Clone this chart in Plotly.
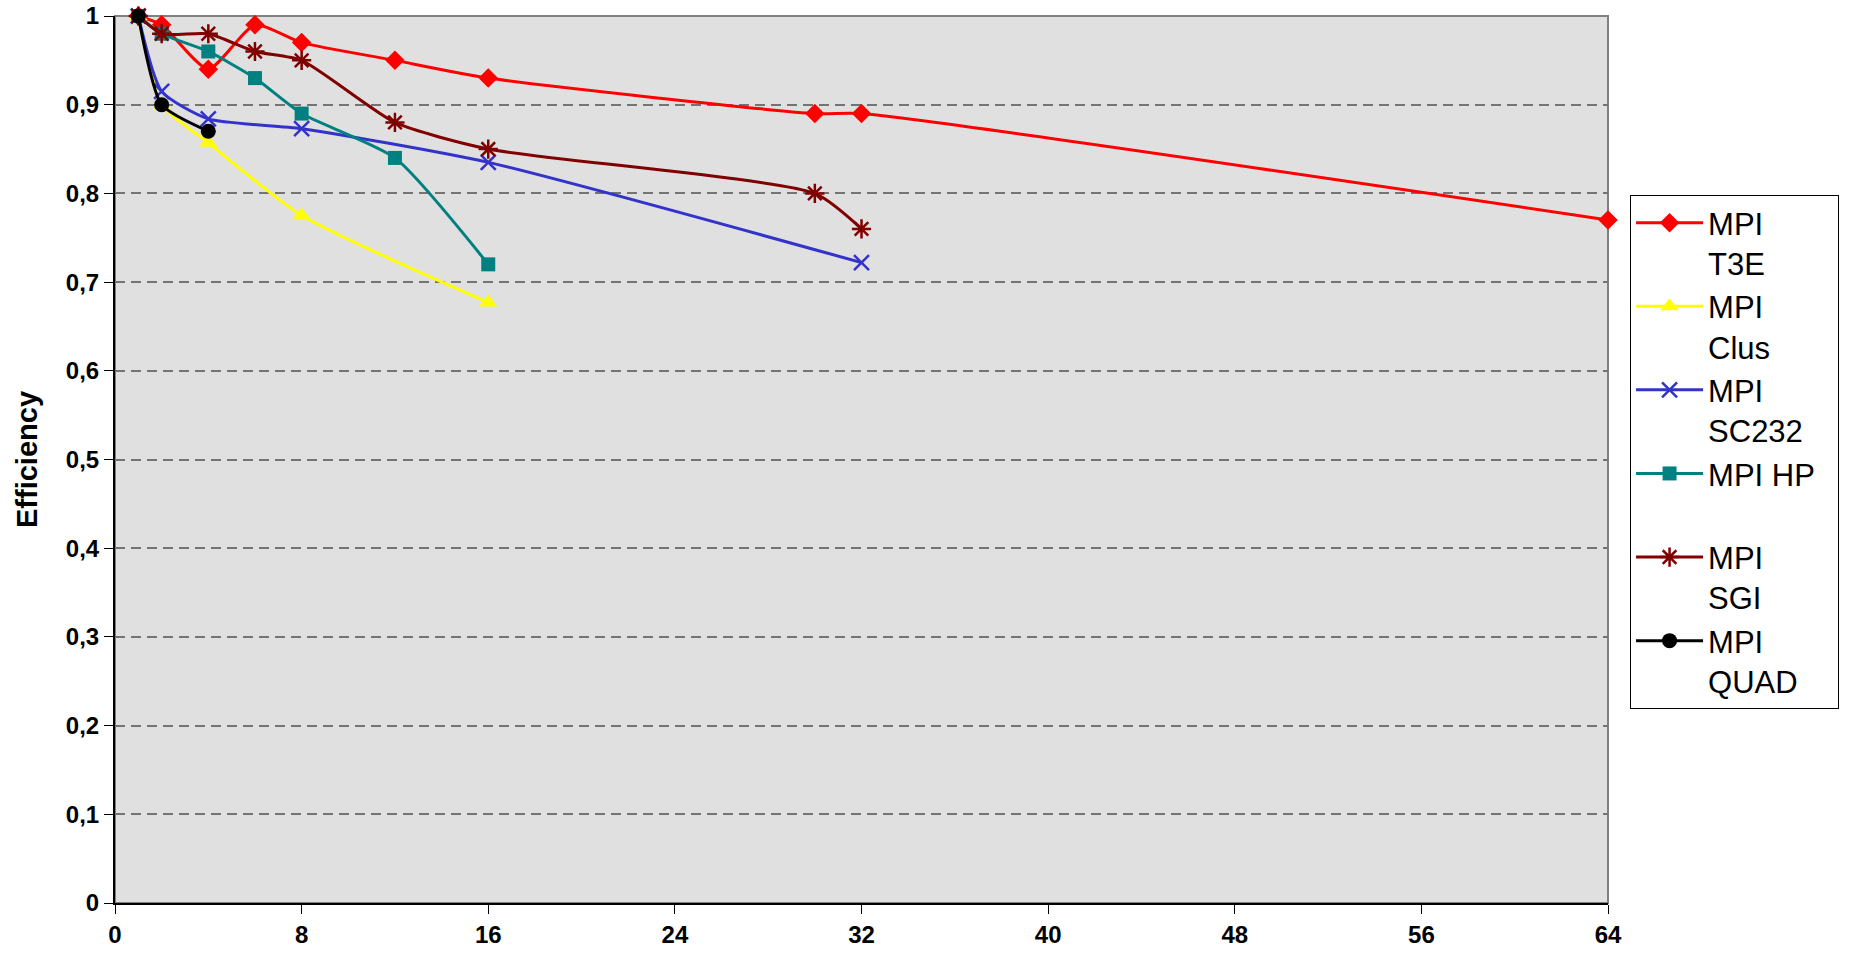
import plotly.graph_objects as go

# Processor counts and parallel efficiency per platform
x_t3e = [1, 2, 4, 6, 8, 12, 16, 30, 32, 64]
y_t3e = [1.0, 0.99, 0.94, 0.99, 0.97, 0.95, 0.93, 0.89, 0.89, 0.77]

x_clus = [1, 2, 4, 8, 16]
y_clus = [1.0, 0.90, 0.857, 0.775, 0.677]

x_sc232 = [1, 2, 4, 8, 16, 32]
y_sc232 = [1.0, 0.915, 0.884, 0.873, 0.835, 0.722]

x_hp = [1, 2, 4, 6, 8, 12, 16]
y_hp = [1.0, 0.98, 0.96, 0.93, 0.89, 0.84, 0.72]

x_sgi = [1, 2, 4, 6, 8, 12, 16, 30, 32]
y_sgi = [1.0, 0.98, 0.98, 0.96, 0.95, 0.88, 0.85, 0.80, 0.76]

x_quad = [1, 2, 4]
y_quad = [1.0, 0.90, 0.87]

series_names = ["MPI<br>T3E", "MPI<br>Clus", "MPI<br>SC232", "MPI HP\u00a0\u00a0<br> ", "MPI<br>SGI", "MPI<br>QUAD"]
x_ticks = [0, 8, 16, 24, 32, 40, 48, 56, 64]
y_ticks = [0, 0.1, 0.2, 0.3, 0.4, 0.5, 0.6, 0.7, 0.8, 0.9, 1.0]
y_tick_text = ["0", "0,1", "0,2", "0,3", "0,4", "0,5", "0,6", "0,7", "0,8", "0,9", "1"]

styles = [
    dict(color="#FF0000", symbol="diamond", size=15, open=False),
    dict(color="#FFFF00", symbol="triangle-up", size=16, open=False),
    dict(color="#3333CC", symbol="x-thin-open", size=15, open=True),
    dict(color="#008080", symbol="square", size=14, open=False),
    dict(color="#800000", symbol="asterisk-open", size=16, open=True),
    dict(color="#000000", symbol="circle", size=15, open=False),
]

data = [(x_t3e, y_t3e), (x_clus, y_clus), (x_sc232, y_sc232),
        (x_hp, y_hp), (x_sgi, y_sgi), (x_quad, y_quad)]

fig = go.Figure()
for (xs, ys), name, st in zip(data, series_names, styles):
    if st["open"]:
        marker = dict(symbol=st["symbol"], size=st["size"], color=st["color"],
                      line=dict(color=st["color"], width=2.5))
    else:
        marker = dict(symbol=st["symbol"], size=st["size"], color=st["color"],
                      line=dict(width=0))
    fig.add_trace(go.Scatter(
        x=xs, y=ys, name=name, mode="lines+markers",
        line=dict(color=st["color"], width=3, shape="spline", smoothing=0.6),
        marker=marker, cliponaxis=False,
    ))

font_main = "Liberation Sans, Arial, sans-serif"

fig.update_layout(
    width=1850, height=955,
    margin=dict(l=115, r=241, t=16, b=52),
    paper_bgcolor="white",
    plot_bgcolor="#E0E0E0",
    showlegend=True,
    legend=dict(
        x=1.0141, y=0.7982, xanchor="left", yanchor="top",
        bgcolor="white", bordercolor="#000000", borderwidth=1,
        font=dict(family=font_main, size=31, color="black"),
        itemwidth=67, valign="top", tracegroupgap=0,
    ),
    xaxis=dict(
        range=[0, 64], tickvals=x_ticks, ticktext=[str(v) for v in x_ticks],
        showgrid=False, zeroline=False, automargin=False,
        showline=True, linecolor="#000000", linewidth=2,
        ticks="outside", ticklen=9, tickcolor="#000000", tickwidth=1,
        tickfont=dict(family=font_main, size=24, color="black", weight="bold"),
    ),
    yaxis=dict(
        range=[0, 1], tickvals=y_ticks, ticktext=y_tick_text,
        showgrid=True, gridcolor="#737373", griddash="10px,6px", gridwidth=1.5,
        zeroline=False, automargin=False,
        showline=True, linecolor="#000000", linewidth=2,
        ticks="outside", ticklen=9, tickcolor="#000000", tickwidth=1,
        tickfont=dict(family=font_main, size=24, color="black", weight="bold"),
        title=dict(text="Efficiency", standoff=20,
                   font=dict(family=font_main, size=29, color="black", weight="bold")),
    ),
    shapes=[dict(type="rect", xref="paper", yref="paper", x0=0, x1=1, y0=0, y1=1,
                 line=dict(color="#808080", width=2), layer="below")],
)

fig.write_html("out.html")
